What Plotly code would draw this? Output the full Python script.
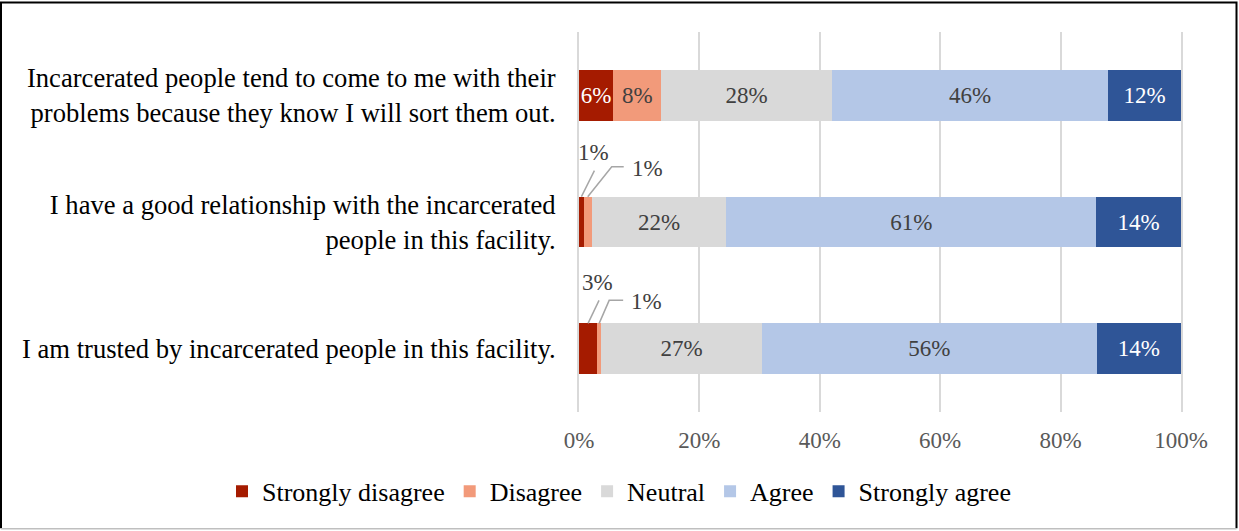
import plotly.graph_objects as go

# Survey statements (top to bottom)
statements = [
    "Incarcerated people tend to come to me with their<br>problems because they know I will sort them out.",
    "I have a good relationship with the incarcerated<br>people in this facility.",
    "I am trusted by incarcerated people in this facility.",
]

# Share of respondents (%) per response level, one value per statement
strongly_disagree = [5.7, 0.8, 3.0]
disagree = [8.0, 1.3, 0.7]
neutral = [28.3, 22.4, 26.7]
agree = [45.9, 61.4, 55.6]
strongly_agree = [12.1, 14.1, 14.0]

levels = ["Strongly disagree", "Disagree", "Neutral", "Agree", "Strongly agree"]
series = [strongly_disagree, disagree, neutral, agree, strongly_agree]
colors = ["#A51B00", "#F29A7A", "#D9D9D9", "#B4C7E7", "#2F5597"]
label_colors = ["#FFFFFF", "#404040", "#404040", "#404040", "#FFFFFF"]

x_ticks = [0, 20, 40, 60, 80, 100]
x_tick_labels = ["0%", "20%", "40%", "60%", "80%", "100%"]

FONT = "Liberation Serif"
BAR_WIDTH = 0.4

# Segments too thin for an inside label get a leader-line callout instead:
# (level index, statement index, line path in px from the segment top, text offset in px)
callouts = [
    (0, 1, "M0,0 L13,26", (12, 44)),
    (1, 1, "M0,0 L24,30 L36,30", (60, 28)),
    (0, 2, "M0,0 L11,23", (9, 41)),
    (1, 2, "M0,0 L10,23 L24,23", (47, 22)),
]
callout_set = {(lv, st) for lv, st, _, _ in callouts}

fig = go.Figure()
for li, (name, vals, col, tcol) in enumerate(zip(levels, series, colors, label_colors)):
    positions = ["none" if (li, si) in callout_set else "inside" for si in range(len(vals))]
    fig.add_trace(go.Bar(
        name=name,
        y=statements,
        x=vals,
        orientation="h",
        width=BAR_WIDTH,
        marker=dict(color=col, line=dict(width=0)),
        text=[f"{round(v)}%" for v in vals],
        textposition=positions,
        insidetextanchor="middle",
        insidetextfont=dict(family=FONT, size=23, color=tcol),
        constraintext="none",
        textangle=0,
        hoverinfo="skip",
    ))

shapes = []
annotations = []
for lv, st, path, (dx, dy) in callouts:
    start = sum(series[k][st] for k in range(lv))
    mid = start + series[lv][st] / 2
    top = st - BAR_WIDTH / 2
    shapes.append(dict(
        type="path", xref="x", yref="y",
        xsizemode="pixel", ysizemode="pixel",
        xanchor=mid, yanchor=top, path=path,
        line=dict(color="#A6A6A6", width=1.5),
    ))
    annotations.append(dict(
        x=mid, y=top, xref="x", yref="y",
        xshift=dx, yshift=dy, showarrow=False,
        xanchor="center", yanchor="middle",
        text=f"{round(series[lv][st])}%",
        font=dict(family=FONT, size=23, color="#404040"),
    ))

# Page geometry and plot-area margins
W, H = 1239, 531
L, R, T, B = 579, 58, 31.5, 118.5
pw, ph = W - L - R, H - T - B


def px(x):
    return (x - L) / pw


def py(y):
    return (H - B - y) / ph


# Outer frame of the chart
shapes.append(dict(type="path", xref="paper", yref="paper",
                   path=f"M{px(1)},{py(529)} L{px(1)},{py(2)} L{px(1236.5)},{py(2)} L{px(1236.5)},{py(529)}",
                   line=dict(color="#000000", width=2)))
shapes.append(dict(type="line", xref="paper", yref="paper",
                   x0=px(1), x1=px(1236.5), y0=py(529.5), y1=py(529.5),
                   line=dict(color="#BFBFBF", width=1.5)))

fig.update_layout(
    barmode="stack",
    width=W, height=H, autosize=False,
    margin=dict(l=L, r=R, t=T, b=B, pad=0, autoexpand=False),
    paper_bgcolor="white", plot_bgcolor="white",
    font=dict(family=FONT, size=26, color="#000000"),
    xaxis=dict(
        range=[0, 100], tickmode="array", tickvals=x_ticks, ticktext=x_tick_labels,
        showgrid=True, gridcolor="#D9D9D9", gridwidth=2,
        zeroline=False, showline=False, ticks="",
        tickfont=dict(family=FONT, size=23, color="#595959"),
        ticklabelstandoff=12, fixedrange=True,
    ),
    yaxis=dict(
        type="category", categoryorder="array", categoryarray=statements,
        range=[2.5, -0.5], showgrid=False, zeroline=False, ticks="",
        showline=True, mirror=True, linecolor="#D9D9D9", linewidth=2,
        tickfont=dict(family=FONT, size=26.6, color="#000000"),
        ticklabelstandoff=16, fixedrange=True,
    ),
    legend=dict(
        orientation="h", xref="paper", yref="paper",
        x=px(222), xanchor="left", y=py(492), yanchor="middle",
        font=dict(family=FONT, size=26, color="#000000"),
        traceorder="normal", bgcolor="rgba(0,0,0,0)",
    ),
    shapes=shapes,
    annotations=annotations,
    showlegend=True,
)

fig.write_html("out.html")
